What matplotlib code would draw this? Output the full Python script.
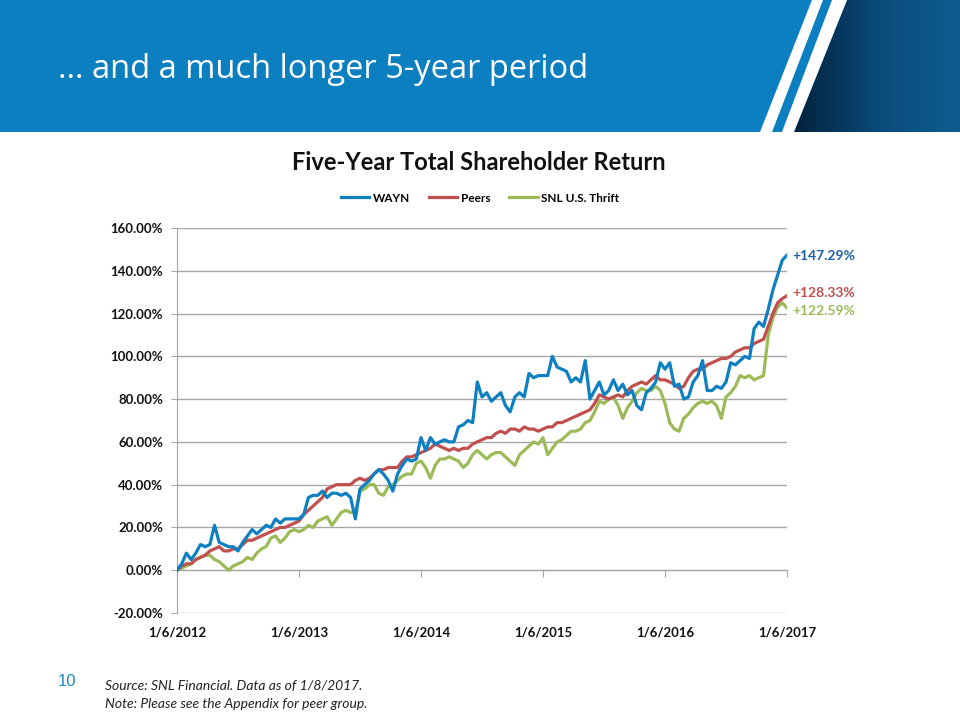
import numpy as np
import pandas as pd
import matplotlib
matplotlib.use("Agg")
import matplotlib.pyplot as plt
from matplotlib.patches import Rectangle, Polygon
from matplotlib.colors import LinearSegmentedColormap

# ---------------- data (percent total return, biweekly samples) ----------------
start_date = "2012-01-06"
end_date = "2017-01-06"

wayn = [0, 3, 8, 5, 8, 12, 11, 12, 21, 13, 12, 11, 11, 9, 13, 16, 19, 17, 19, 21,
        20, 24, 22, 24, 24, 24, 24, 26, 34, 35, 35, 37, 34, 36, 36, 35, 36, 34, 24, 38,
        40, 42, 45, 47, 45, 42, 37, 45, 49, 52, 51, 52, 62, 56, 62, 59, 60, 61, 60, 60,
        67, 68, 70, 69, 88, 81, 83, 79, 81, 83, 77, 74, 81, 83, 81, 92, 90, 91, 91, 91,
        100, 95, 94, 93, 88, 90, 88, 98, 80, 84, 88, 82, 84, 89, 84, 87, 82, 84, 77, 75,
        83, 85, 88, 97, 94, 97, 86, 87, 80, 81, 88, 91, 98, 84, 84, 86, 85, 88, 97, 96,
        98, 100, 99, 113, 116, 114, 122, 131, 138, 145, 147.29]

peers = [0, 2, 3, 3, 5, 6, 7, 9, 10, 11, 9, 9, 10, 10, 12, 14, 14, 15, 16, 17,
         18, 19, 20, 20, 21, 22, 23, 26, 28, 30, 32, 34, 38, 39, 40, 40, 40, 40, 42, 43,
         42, 43, 45, 47, 47, 48, 48, 48, 51, 53, 53, 54, 55, 56, 57, 59, 58, 57, 56, 57,
         56, 57, 57, 59, 60, 61, 62, 62, 64, 65, 64, 66, 66, 65, 67, 66, 66, 65, 66, 67,
         67, 69, 69, 70, 71, 72, 73, 74, 75, 78, 82, 81, 80, 81, 82, 81, 84, 86, 87, 88,
         87, 89, 91, 89, 89, 88, 87, 85, 86, 90, 93, 94, 94, 96, 97, 98, 99, 99, 100, 102,
         103, 104, 104, 106, 107, 108, 114, 120, 125, 127, 128.33]

thrift = [0, 1, 2, 3, 5, 6, 7, 7, 5, 4, 2, 0, 2, 3, 4, 6, 5, 8, 10, 11,
          15, 16, 13, 15, 18, 19, 18, 19, 21, 20, 23, 24, 25, 21, 24, 27, 28, 27, 27, 37,
          38, 40, 40, 36, 35, 39, 40, 42, 44, 45, 45, 50, 51, 48, 43, 49, 52, 52, 53, 52,
          51, 48, 50, 54, 56, 54, 52, 54, 55, 55, 53, 51, 49, 54, 56, 58, 60, 59, 62, 54,
          57, 60, 61, 63, 65, 65, 66, 69, 70, 74, 79, 78, 80, 81, 77, 71, 76, 79, 83, 85,
          84, 84, 86, 84, 78, 69, 66, 65, 71, 73, 76, 78, 79, 78, 79, 77, 71, 81, 83, 86,
          91, 90, 91, 89, 90, 91, 110, 118, 123, 125, 122.59]

series_names = ["WAYN", "Peers", "SNL U.S. Thrift"]
series_colors = ["#0E80C2", "#C0504D", "#9BBB59"]
label_colors = ["#1F5FA8", "#C0504D", "#9BBB59"]
end_labels = ["+147.29%", "+128.33%", "+122.59%"]
end_label_values = [146.8, 129.5, 121.0]

tick_dates = ["2012-01-06", "2013-01-06", "2014-01-06", "2015-01-06", "2016-01-06", "2017-01-06"]
tick_labels = ["1/6/2012", "1/6/2013", "1/6/2014", "1/6/2015", "1/6/2016", "1/6/2017"]
y_ticks = [-20, 0, 20, 40, 60, 80, 100, 120, 140, 160]

dates = pd.date_range(start_date, end_date, periods=len(wayn))

# ---------------- figure ----------------
W, H = 960, 720
fig = plt.figure(figsize=(9.6, 7.2), dpi=100)
fig.patch.set_facecolor("white")

bg = fig.add_axes([0, 0, 1, 1], zorder=0)
bg.set_xlim(0, W)
bg.set_ylim(H, 0)
bg.axis("off")

banner_h = 132
bg.add_patch(Rectangle((0, 0), W, banner_h, facecolor="#0C7FC1", edgecolor="none"))
dark_poly = Polygon([(847, 0), (W, 0), (W, banner_h), (794, banner_h)], closed=True,
                    facecolor="none", edgecolor="none")
bg.add_patch(dark_poly)
grad = np.linspace(0, 1, 256).reshape(1, -1)
cmap = LinearSegmentedColormap.from_list("g", ["#03213B", "#0A4A7A", "#0F5D91"])
im = bg.imshow(grad, extent=(794, W, banner_h, 0), cmap=cmap, aspect="auto", zorder=1)
im.set_clip_path(dark_poly)
bg.add_patch(Polygon([(812, 0), (823, 0), (772, banner_h), (760, banner_h)], closed=True,
                     facecolor="white", edgecolor="none", zorder=2))
bg.add_patch(Polygon([(832, 0), (847, 0), (794, banner_h), (782, banner_h)], closed=True,
                     facecolor="white", edgecolor="none", zorder=2))

bg.text(58, 70, "... and a much longer 5-year period", color="white", fontsize=23.5,
        family="Open Sans", va="center", ha="left", zorder=3)

# footer
bg.text(58, 681, "10", color="#1A8AC6", fontsize=12, family="Liberation Sans",
        va="center", ha="left")
bg.text(105, 686, "Source: SNL Financial. Data as of 1/8/2017.", fontsize=10,
        family="Lato", style="italic", color="#222222", va="center", ha="left")
bg.text(105, 704, "Note: Please see the Appendix for peer group.", fontsize=10,
        family="Lato", style="italic", color="#222222", va="center", ha="left")

# chart title
fig.text(479 / W, 1 - 163 / H, "Five-Year Total Shareholder Return", fontsize=17,
         family="Lato", weight="bold", ha="center", va="center", color="#111111")

# ---------------- chart axes ----------------
left, right, top, bottom = 177, 787, 228, 613
ax = fig.add_axes([left / W, 1 - bottom / H, (right - left) / W, (bottom - top) / H], zorder=2)
ax.patch.set_alpha(0)

all_vals = [wayn, peers, thrift]
handles = [None] * 3
for i in [2, 1, 0]:
    (ln,) = ax.plot(dates, all_vals[i], color=series_colors[i], lw=2.3, label=series_names[i],
                    solid_joinstyle="round", zorder=3 + (2 - i))
    handles[i] = ln

ax.set_ylim(-20, 160)
ax.set_xlim(pd.Timestamp(start_date), pd.Timestamp(end_date))
ax.set_yticks(y_ticks)
ax.set_yticklabels([f"{v:.2f}%" for v in y_ticks], fontsize=9.5, family="Lato",
                   weight="bold", color="#111111")
ax.yaxis.grid(True, color="#A6A6A6", lw=1.0)
ax.set_axisbelow(True)
ax.tick_params(axis="y", length=4, color="#A6A6A6", pad=6)

for s in ["top", "right"]:
    ax.spines[s].set_visible(False)
ax.spines["left"].set_color("#A6A6A6")
ax.spines["bottom"].set_color("#A6A6A6")
ax.spines["bottom"].set_position(("data", 0))

tick_ts = [pd.Timestamp(d) for d in tick_dates]
ax.set_xticks(tick_ts)
ax.tick_params(axis="x", labelbottom=False, length=5, color="#A6A6A6", direction="out")

sec = ax.secondary_xaxis(0)
sec.set_xticks(tick_ts)
sec.set_xticklabels(tick_labels, fontsize=9.5, family="Lato", weight="bold", color="#111111")
sec.tick_params(length=0, pad=10)
sec.spines["bottom"].set_visible(False)

for txt, v, c in zip(end_labels, end_label_values, label_colors):
    ax.annotate(txt, xy=(1.0, v), xycoords=("axes fraction", "data"), xytext=(4, 0),
                textcoords="offset points", fontsize=10, family="Lato", weight="bold",
                color=c, va="center", ha="left", annotation_clip=False)

leg = ax.legend(handles=handles, loc="center", bbox_to_anchor=(480 / W, 1 - 198 / H),
                bbox_transform=fig.transFigure, ncol=3, frameon=False,
                prop={"family": "Lato", "weight": "bold", "size": 8.5},
                handlelength=2.4, columnspacing=1.6, handletextpad=0.3)

fig.savefig("out.png", dpi=100)
